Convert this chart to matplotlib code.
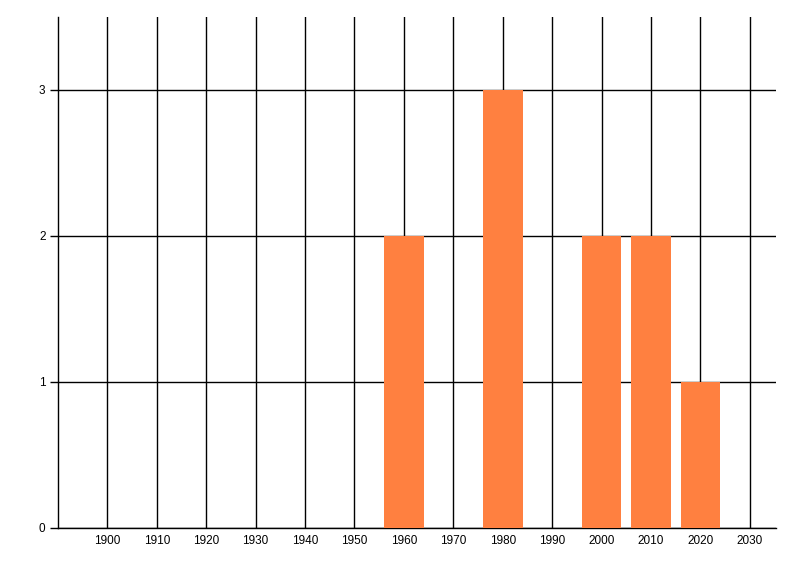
import matplotlib
matplotlib.use("Agg")
import matplotlib.pyplot as plt

years = [1960, 1980, 2000, 2010, 2020]
counts = [2, 3, 2, 2, 1]
xticks = list(range(1900, 2031, 10))
yticks = [0, 1, 2, 3]

plt.rcParams['font.family'] = ['Liberation Sans', 'DejaVu Sans']
fig = plt.figure(figsize=(8, 5.76), dpi=100)
ax = fig.add_axes([58/800, 1-528/576, (776-58)/800, (528-17)/576])

ax.bar(years, counts, width=8, color='#FF8040', zorder=3)
ax.set_xlim(1890, 2035.3)
ax.set_ylim(0, 3.5)
ax.set_xticks(xticks)
ax.set_xticklabels([str(t) for t in xticks])
ax.set_yticks(yticks)
ax.grid(True, color='black', linewidth=1, zorder=0)
ax.set_axisbelow(True)
for s in ['top', 'right']:
    ax.spines[s].set_visible(False)
for s in ['left', 'bottom']:
    ax.spines[s].set_color('black')
    ax.spines[s].set_linewidth(1)
ax.tick_params(axis='x', length=0, pad=5, labelsize=8.5)
ax.tick_params(axis='y', length=6, width=1, pad=3, labelsize=8.5)

fig.savefig('out.png', dpi=100)
